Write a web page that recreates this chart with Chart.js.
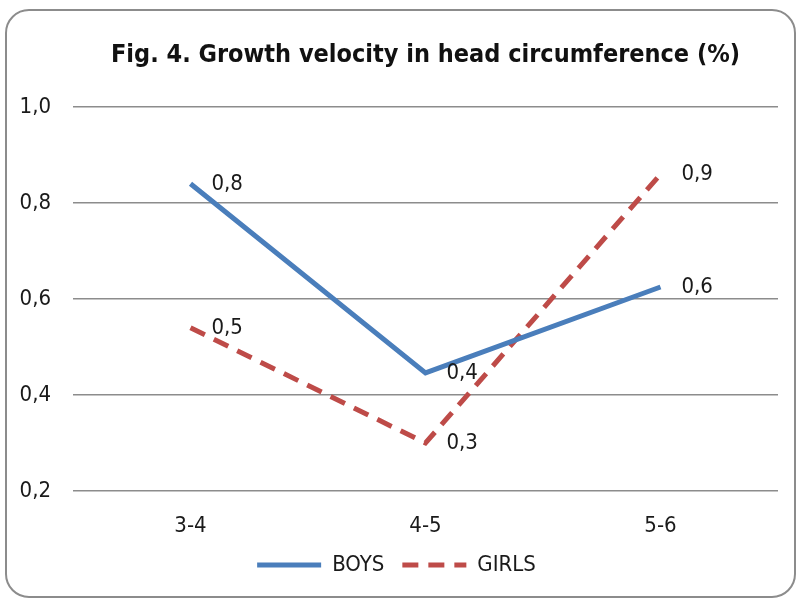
<!DOCTYPE html>
<html>
<head>
<meta charset="utf-8">
<script src="https://cdn.jsdelivr.net/npm/chart.js@4.4.1/dist/chart.umd.min.js"></script>
<style>
  body { margin: 0; background: #fff; }
  #box {
    position: absolute; left: 5px; top: 9px;
    width: 787px; height: 585px;
    border: 2px solid #8c8c8c; border-radius: 24px;
    overflow: hidden; background: #fff;
  }
</style>
</head>
<body>
<div id="box"><canvas id="chart" width="787" height="585"></canvas></div>
<script>
const categories = ["3-4", "4-5", "5-6"];
const boys = [0.84, 0.446, 0.625];
const girls = [0.54, 0.30, 0.86];
const yTicks = [0.2, 0.4, 0.6, 0.8, 1.0];

const FONT = "'DejaVu Sans Condensed', 'Open Sans', sans-serif";
const fmt = v => v.toFixed(1).replace(".", ",");

// value labels to the right of each point
const pointLabels = {
  id: "pointLabels",
  afterDatasetsDraw(chart) {
    const ctx = chart.ctx;
    ctx.save();
    ctx.font = "22px " + FONT;
    ctx.fillStyle = "#1a1a1a";
    ctx.textAlign = "left";
    ctx.textBaseline = "middle";
    chart.data.datasets.forEach((ds, i) => {
      chart.getDatasetMeta(i).data.forEach((pt, j) => {
        ctx.fillText(fmt(ds.data[j]), pt.x + 21, pt.y);
      });
    });
    ctx.restore();
  }
};

const ctx = document.getElementById("chart").getContext("2d");
new Chart(ctx, {
  type: "line",
  data: {
    labels: categories,
    datasets: [
      {
        label: "BOYS",
        data: boys,
        borderColor: "#4a7ebb",
        backgroundColor: "#4a7ebb",
        borderWidth: 5,
        pointRadius: 0,
        tension: 0
      },
      {
        label: "GIRLS",
        data: girls,
        borderColor: "#be4b48",
        backgroundColor: "#be4b48",
        borderWidth: 5,
        borderDash: [16, 10],
        borderCapStyle: "butt",
        pointRadius: 0,
        tension: 0
      }
    ]
  },
  options: {
    responsive: false,
    animation: false,
    layout: { padding: { left: 8, right: 16, top: 0, bottom: 10 } },
    scales: {
      x: {
        offset: true,
        grid: { display: false, drawTicks: false },
        border: { display: false },
        ticks: { color: "#1a1a1a", padding: 22, font: { family: FONT, size: 22 } },
        afterFit: s => { s.height = 45; }
      },
      y: {
        min: 0.2,
        max: 1.0,
        afterBuildTicks: s => { s.ticks = yTicks.map(v => ({ value: v })); },
        grid: { color: "#8c8c8c", lineWidth: 1.5, drawTicks: false },
        border: { display: false },
        ticks: {
          color: "#1a1a1a",
          padding: 22,
          font: { family: FONT, size: 22 },
          callback: v => fmt(v)
        },
        afterFit: s => { s.width = 58; }
      }
    },
    plugins: {
      title: {
        display: true,
        fullSize: false,
        text: "Fig. 4. Growth velocity in head circumference (%)",
        color: "#111",
        font: { family: FONT, size: 25, weight: "bold" },
        padding: { top: 29, bottom: 37 }
      },
      legend: {
        position: "bottom",
        labels: {
          usePointStyle: true,
          pointStyle: "line",
          pointStyleWidth: 64,
          color: "#1a1a1a",
          padding: 18,
          font: { family: FONT, size: 22 },
          generateLabels: chart =>
            Chart.defaults.plugins.legend.labels.generateLabels(chart).map((item, i) => {
              const ds = chart.data.datasets[i];
              return { ...item, lineDash: ds.borderDash || [], lineWidth: ds.borderWidth, strokeStyle: ds.borderColor };
            })
        }
      },
      tooltip: { enabled: false }
    }
  },
  plugins: [pointLabels]
});
</script>
</body>
</html>
